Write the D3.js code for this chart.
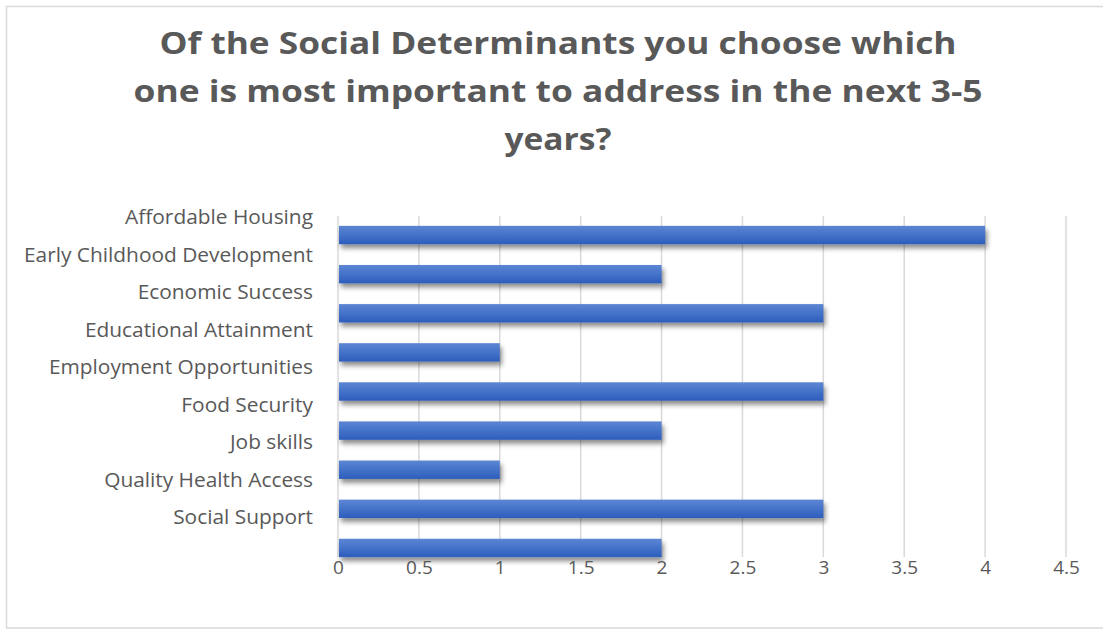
<!DOCTYPE html>
<html>
<head>
<meta charset="utf-8">
<script src="https://cdn.jsdelivr.net/npm/d3@7/dist/d3.min.js"></script>
<style>
  html, body { margin: 0; padding: 0; background: #fff; }
  svg { display: block; }
</style>
</head>
<body>
<svg id="chart" width="1103" height="630"></svg>
<script>
// Survey answers: count of respondents per social determinant
const categories = [
  "Affordable Housing",
  "Early Childhood Development",
  "Economic Success",
  "Educational Attainment",
  "Employment Opportunities",
  "Food Security",
  "Job skills",
  "Quality Health Access",
  "Social Support"
];
const counts = [4, 2, 3, 1, 3, 2, 1, 3, 2];
const xTicks = [0, 0.5, 1, 1.5, 2, 2.5, 3, 3.5, 4, 4.5];
const titleLines = [
  "Of the Social Determinants you choose which",
  "one is most important to address in the next 3-5",
  "years?"
];

const svg = d3.select("#chart");
const textColor = "#595959";
const gridColor = "#d9d9d9";

// Chart frame
svg.append("rect")
  .attr("x", 6.5).attr("y", 6.5)
  .attr("width", 1102).attr("height", 621.5)
  .attr("fill", "#fff")
  .attr("stroke", gridColor)
  .attr("stroke-width", 1.5);

// Gradient and shadow for the bars
const defs = svg.append("defs");
const grad = defs.append("linearGradient")
  .attr("id", "barFill").attr("x1", 0).attr("y1", 0).attr("x2", 0).attr("y2", 1);
grad.append("stop").attr("offset", "0%").attr("stop-color", "#5d86d3");
grad.append("stop").attr("offset", "55%").attr("stop-color", "#4170c8");
grad.append("stop").attr("offset", "100%").attr("stop-color", "#2d5dbb");

const shadow = defs.append("filter").attr("id", "barShadow")
  .attr("x", "-5%").attr("y", "-40%").attr("width", "115%").attr("height", "200%");
shadow.append("feDropShadow")
  .attr("dx", 2).attr("dy", 4).attr("stdDeviation", 2.5)
  .attr("flood-color", "#000").attr("flood-opacity", 0.45);

// Title
const titleWidths = [797, 849, 107];
svg.append("g").selectAll("text")
  .data(titleLines)
  .join("text")
  .attr("x", 558)
  .attr("y", (d, i) => 54 + i * 48)
  .attr("text-anchor", "middle")
  .attr("font-family", "'Open Sans', sans-serif")
  .attr("font-weight", "bold")
  .attr("font-size", 30.5)
  .attr("fill", textColor)
  .attr("textLength", (d, i) => titleWidths[i])
  .attr("lengthAdjust", "spacingAndGlyphs")
  .text(d => d);

// Scales
const plotTop = 216, plotBottom = 557;
const x = d3.scaleLinear().domain([0, 4.5]).range([338, 1066]);
const yBar = d3.scaleBand()
  .domain(categories)
  .range([215.5, 567.5])
  .paddingInner(0.53)
  .paddingOuter(0.265);
const yLabel = d3.scalePoint()
  .domain(categories)
  .range([224, 524]);

// Vertical gridlines
svg.append("g").selectAll("line")
  .data(xTicks)
  .join("line")
  .attr("x1", d => x(d)).attr("x2", d => x(d))
  .attr("y1", plotTop).attr("y2", plotBottom)
  .attr("stroke", gridColor)
  .attr("stroke-width", 1.5);

// Bars
svg.append("g").selectAll("rect")
  .data(categories)
  .join("rect")
  .attr("x", x(0) + 1)
  .attr("y", d => yBar(d))
  .attr("width", (d, i) => x(counts[i]) - x(0) - 1)
  .attr("height", yBar.bandwidth())
  .attr("fill", "url(#barFill)")
  .attr("filter", "url(#barShadow)");

// Value axis tick labels
const xAxis = d3.axisBottom(x).tickValues(xTicks).tickSize(0).tickPadding(0)
  .tickFormat(d3.format("~g"));
const gx = svg.append("g")
  .attr("transform", `translate(0, ${plotBottom})`)
  .call(xAxis);
gx.select(".domain").remove();
gx.selectAll("text")
  .attr("dy", null)
  .attr("y", 16.5)
  .attr("font-family", "'Open Sans', sans-serif")
  .attr("font-size", 19)
  .attr("fill", textColor);

// Category labels
const labels = svg.append("g").selectAll("text")
  .data(categories)
  .join("text")
  .attr("x", 313)
  .attr("y", d => yLabel(d))
  .attr("text-anchor", "end")
  .attr("font-family", "'Open Sans', sans-serif")
  .attr("font-size", 19.5)
  .attr("fill", textColor)
  .text(d => d);

// Stretch labels uniformly so the longest spans the label column
const longest = d3.max(labels.nodes(), n => n.getComputedTextLength());
const stretch = 289 / longest;
labels.each(function () {
  const w = this.getComputedTextLength();
  d3.select(this).attr("textLength", w * stretch).attr("lengthAdjust", "spacingAndGlyphs");
});
</script>
</body>
</html>
